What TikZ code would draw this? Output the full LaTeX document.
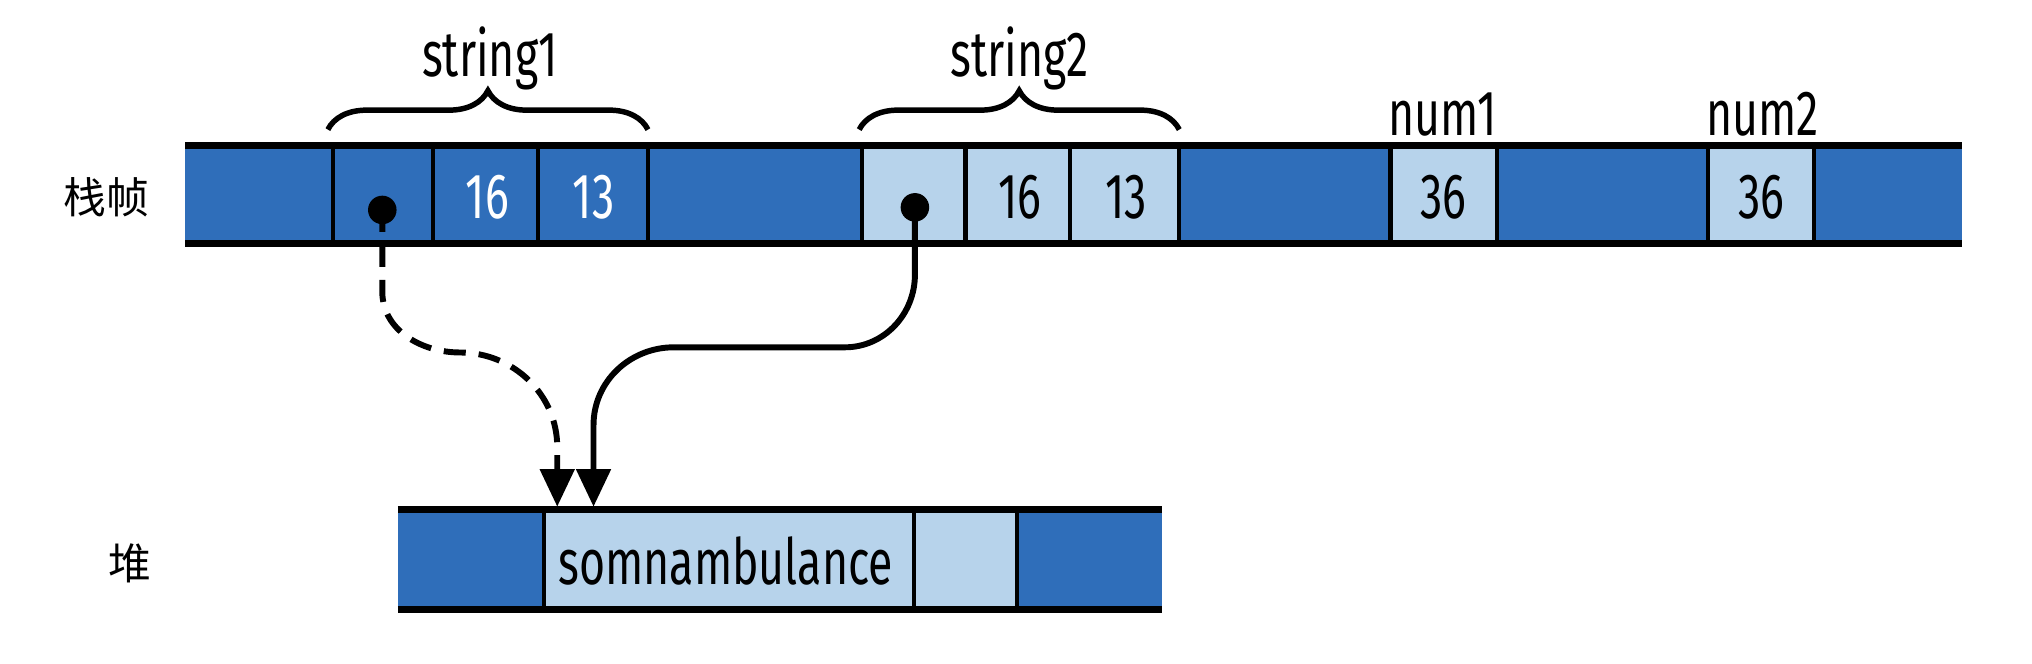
\documentclass[tikz,border=0pt]{standalone}
\usepackage{fontspec}
\setmainfont{Fira Sans}[FakeStretch=0.7]
\newfontfamily\cjk{Noto Sans CJK SC}
\usetikzlibrary{arrows.meta,decorations.pathreplacing}
\definecolor{darkcell}{RGB}{47,110,186}
\definecolor{lightcell}{RGB}{183,211,235}
\begin{document}
\begin{tikzpicture}[x=0.01cm, y=0.01cm,
    bar/.style={line width=1.5pt},
    sep/.style={line width=0.9pt},
    lbl/.style={font=\fontsize{14}{16}\selectfont, inner sep=0pt},
    cjklbl/.style={font=\cjk\fontsize{9.4}{11}\selectfont, inner sep=0pt},
    dot/.style={circle, fill=black, inner sep=0pt, minimum size=0.22cm},
    ptr/.style={line width=1.3pt, -{Triangle[length=0.29cm,width=0.26cm]}},
    brc/.style={decorate, decoration={brace, amplitude=0.3cm}, line width=1.2pt}]
    \useasboundingbox (0,0) rectangle (1568,-512);
    \fill[darkcell] (143,-112) rectangle (1514,-188);
    \foreach \a/\b in {665/745, 745/826, 826/910, 1073/1155, 1318/1400}
        \fill[lightcell] (\a,-112) rectangle (\b,-188);
    \foreach \x in {257,334,415,500,665,745,826,910,1073,1155,1318,1400}
        \draw[sep] (\x,-112) -- (\x,-188);
    \draw[bar] (143,-112) -- (1514,-112);
    \draw[bar] (143,-188) -- (1514,-188);
    \fill[darkcell] (307,-393) rectangle (897,-470);
    \fill[lightcell] (420,-393) rectangle (785,-470);
    \foreach \x in {420,705,785}
        \draw[sep] (\x,-393) -- (\x,-470);
    \draw[bar] (307,-393) -- (897,-393);
    \draw[bar] (307,-470) -- (897,-470);
    \draw[brc] (253,-100) -- (500,-100);
    \draw[brc] (663,-100) -- (910,-100);
    \node[cjklbl] (frame) at (82,-152) {栈帧};
    \node[cjklbl] (heap) at (100,-435) {堆};
    \node[lbl] (str1) at (378,-45) {string1};
    \node[lbl] (str2) at (787,-45) {string2};
    \node[lbl] (num1) at (1113,-88) {num1};
    \node[lbl] (num2) at (1360,-88) {num2};
    \node[lbl, white] (len1) at (376,-152) {16};
    \node[lbl, white] (cap1) at (458,-152) {13};
    \node[lbl] (len2) at (787,-152) {16};
    \node[lbl] (cap2) at (869,-152) {13};
    \node[lbl] (val1) at (1114,-152) {36};
    \node[lbl] (val2) at (1359,-152) {36};
    \node[lbl] (text) at (560,-433) {somnambulance};
    \node[dot] (p1) at (295,-162) {};
    \node[dot] (p2) at (706,-160) {};
    \coordinate (h1) at (430,-391);
    \coordinate (h2) at (458,-391);
    \draw[ptr, dash pattern=on 0.17cm off 0.1cm] (p1.center) -- (295,-225)
        to[out=-90,in=180] (355,-272) to[out=0,in=90] (430,-345) -- (h1);
    \draw[ptr] (p2.center) -- (706,-212) to[out=-90,in=0] (652,-268)
        -- (520,-268) to[out=180,in=90] (458,-328) -- (h2);
\end{tikzpicture}
\end{document}
